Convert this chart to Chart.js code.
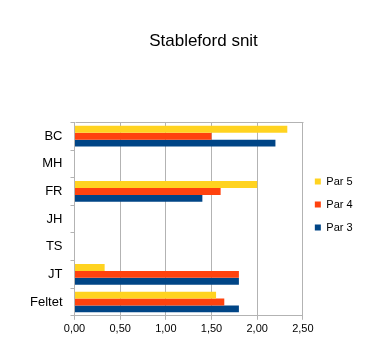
<!DOCTYPE html>
<html>
<head>
<meta charset="utf-8">
<script src="https://cdn.jsdelivr.net/npm/chart.js@4/dist/chart.umd.min.js"></script>
<style>
html,body{margin:0;padding:0;background:#fff;}
#wrap{width:379px;height:358px;position:relative;}
</style>
</head>
<body>
<div id="wrap"><canvas id="c" width="379" height="358"></canvas></div>
<script>
const categories = ["BC", "MH", "FR", "JH", "TS", "JT", "Feltet"];
const par5 = [2.33, null, 2.00, null, null, 0.33, 1.55];
const par4 = [1.50, null, 1.60, null, null, 1.80, 1.64];
const par3 = [2.20, null, 1.40, null, null, 1.80, 1.80];
const seriesNames = ["Par 5", "Par 4", "Par 3"];
const seriesColors = ["#ffd320", "#ff420e", "#004586"];
const xTicks = [0, 0.5, 1, 1.5, 2, 2.5];
const titleText = "Stableford snit";

const gridColor = "#b3b3b3";
const font = "'Liberation Sans', Arial, sans-serif";

const frame = {
  id: "frame",
  afterDraw(chart) {
    const a = chart.chartArea, ctx = chart.ctx;
    ctx.save();
    ctx.strokeStyle = gridColor;
    ctx.lineWidth = 1;
    ctx.beginPath();
    ctx.moveTo(Math.round(a.left) + 0.5, Math.round(a.top) + 0.5);
    ctx.lineTo(Math.round(a.right) + 0.5, Math.round(a.top) + 0.5);
    ctx.stroke();
    ctx.restore();
  }
};

new Chart(document.getElementById("c"), {
  type: "bar",
  data: {
    labels: categories,
    datasets: [par5, par4, par3].map((d, i) => ({
      label: seriesNames[i],
      data: d,
      backgroundColor: seriesColors[i],
      borderWidth: 0,
      categoryPercentage: 0.75,
      barPercentage: 1.0
    }))
  },
  options: {
    indexAxis: "y",
    responsive: false,
    animation: false,
    devicePixelRatio: 1,
    layout: { padding: { left: 29, right: 1, top: 0, bottom: 19 } },
    plugins: {
      title: {
        display: true,
        text: titleText,
        color: "#000",
        font: { family: font, size: 17, weight: "normal" },
        padding: { top: 31, bottom: 71 }
      },
      legend: {
        position: "right",
        align: "start",
        title: { display: true, text: "", font: { size: 10 }, padding: { top: 152, bottom: 0 } },
        labels: {
          boxWidth: 6,
          boxHeight: 6,
          padding: 12,
          color: "#000",
          font: { family: font, size: 11 }
        }
      },
      tooltip: { enabled: false }
    },
    scales: {
      x: {
        min: 0,
        max: 2.5,
        afterBuildTicks(scale) { scale.ticks = xTicks.map(v => ({ value: v })); },
        grid: { color: gridColor, tickLength: 4, drawTicks: true },
        border: { color: gridColor },
        ticks: {
          color: "#000",
          padding: 3,
          font: { family: font, size: 11 },
          callback: v => Number(v).toFixed(2).replace(".", ",")
        }
      },
      y: {
        afterFit(scale) { scale.width = 45.5; },
        grid: { drawOnChartArea: false, color: gridColor, tickLength: 4, offset: true },
        border: { color: gridColor },
        ticks: {
          color: "#000",
          padding: 8,
          font: { family: font, size: 13 }
        }
      },
      spacer: {
        type: "linear",
        position: "right",
        weight: 1500,
        display: true,
        afterFit(scale) { scale.width = 17; },
        grid: { display: false },
        border: { display: false },
        ticks: { display: false }
      }
    }
  },
  plugins: [frame]
});
</script>
</body>
</html>
